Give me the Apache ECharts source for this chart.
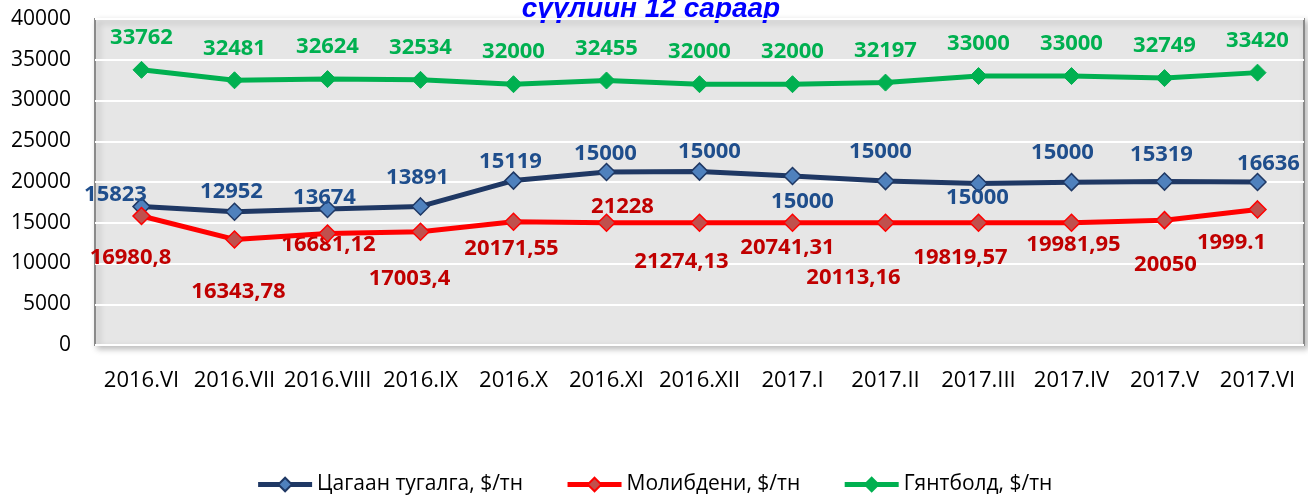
<!DOCTYPE html>
<html>
<head>
<meta charset="utf-8">
<script src="https://cdn.jsdelivr.net/npm/echarts@6/dist/echarts.min.js"></script>
<style>
html,body{margin:0;padding:0;background:#fff;}
#chart{width:1308px;height:500px;}
</style>
</head>
<body>
<div id="chart"></div>
<script>
// ---- data ----
const categories = ['2016.VI','2016.VII','2016.VIII','2016.IX','2016.X','2016.XI','2016.XII','2017.I','2017.II','2017.III','2017.IV','2017.V','2017.VI'];
const seriesNames = ['Цагаан тугалга, $/тн','Молибдени, $/тн','Гянтболд, $/тн'];
const tinValues = [16980.8,16343.78,16681.12,17003.4,20171.55,21228,21274.13,20741.31,20113.16,19819.57,19981.95,20050,19999.1];
const tinLabels = ['16980,8','16343,78','16681,12','17003,4','20171,55','21228','21274,13','20741,31','20113,16','19819,57','19981,95','20050','1999.1'];
const molyValues = [15823,12952,13674,13891,15119,15000,15000,15000,15000,15000,15000,15319,16636];
const tungstenValues = [33762,32481,32624,32534,32000,32455,32000,32000,32197,33000,33000,32749,33420];
const yTicks = {min:0, max:40000, interval:5000};
const titleText = 'сүүлиин 12 сараар';

// ---- label layout (manually placed labels in the original) ----
const tinLabelOffsets = [[-11,51],[4,80],[1,36],[-11,72],[-2,68],[16,35],[-18,90],[-5,72],[-32,97],[-18,74],[2,63],[1,83],[-26,61]];
const molyLabelOffsets = [[-26,-21],[-3,-48],[-3,-36],[-3,-54],[-3,-60],[-1,-69],[10,-71],[10,-21],[-5,-71],[-1,-25],[-9,-70],[-3,-65],[11,-46]];

const FONT = '"Open Sans", "Noto Sans", sans-serif';
const labelBase = {show:true, position:'inside', fontFamily:FONT, fontWeight:'bold', fontSize:22};

const chart = echarts.init(document.getElementById('chart'), null, {renderer:'canvas'});
chart.setOption({
  animation:false,
  backgroundColor:'#ffffff',
  graphic:[{
    type:'text', x:651, y:-5,
    style:{text:titleText, fill:'#0000ff', font:'italic bold 28px "Liberation Sans", Arial, sans-serif', textAlign:'center', textVerticalAlign:'top'}
  }],
  grid:{left:95, right:4, top:19, bottom:155, show:true, backgroundColor:'#e6e6e6', borderColor:'#8a8a8a', borderWidth:2,
        shadowColor:'rgba(0,0,0,0.25)', shadowBlur:6, shadowOffsetX:3, shadowOffsetY:3},
  legend:{
    bottom:0, left:'center', itemWidth:54, itemHeight:17, itemGap:42,
    textStyle:{fontFamily:FONT, fontSize:21, color:'#000'},
    lineStyle:{width:5},
    data:seriesNames
  },
  xAxis:{
    type:'category', data:categories, boundaryGap:true,
    axisLine:{show:false}, axisTick:{show:false},
    axisLabel:{color:'#000', fontFamily:FONT, fontSize:22, margin:25, interval:0}
  },
  yAxis:{
    type:'value', min:yTicks.min, max:yTicks.max, interval:yTicks.interval,
    axisLine:{show:false}, axisTick:{show:false},
    axisLabel:{color:'#000', fontFamily:FONT, fontSize:21, margin:24, formatter:v=>String(v)},
    splitLine:{show:true, lineStyle:{color:'#ffffff', width:2}}
  },
  series:[
    {
      name:seriesNames[0], type:'line', z:3,
      data:tinValues.map((v,i)=>({value:v, label:{offset:tinLabelOffsets[i]}})),
      symbol:'diamond', symbolSize:17,
      lineStyle:{color:'#1f3864', width:5},
      itemStyle:{color:'#4f81bd', borderColor:'#1f3864', borderWidth:1.5},
      label:Object.assign({}, labelBase, {color:'#c00000', formatter:p=>tinLabels[p.dataIndex]})
    },
    {
      name:seriesNames[1], type:'line', z:4,
      data:molyValues.map((v,i)=>({value:v, label:{offset:molyLabelOffsets[i]}})),
      symbol:'diamond', symbolSize:17,
      lineStyle:{color:'#ff0000', width:5},
      itemStyle:{color:'#c0504d', borderColor:'#ff0000', borderWidth:1.5},
      label:Object.assign({}, labelBase, {color:'#1f4e8c'})
    },
    {
      name:seriesNames[2], type:'line', z:5,
      data:tungstenValues,
      symbol:'diamond', symbolSize:17,
      lineStyle:{color:'#00b050', width:5},
      itemStyle:{color:'#00b050', borderColor:'#00b050', borderWidth:1},
      label:Object.assign({}, labelBase, {color:'#00b050', offset:[0,-32]})
    }
  ]
});
</script>
</body>
</html>
